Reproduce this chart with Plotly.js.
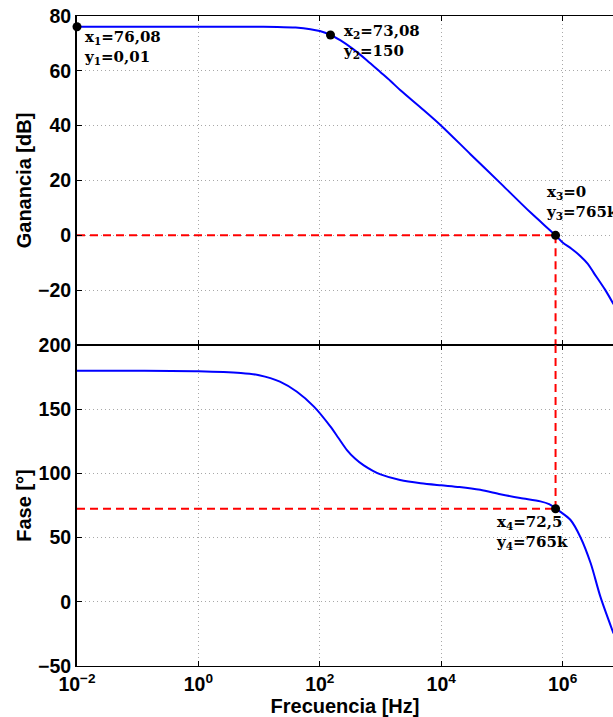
<!DOCTYPE html>
<html>
<head>
<meta charset="utf-8">
<script src="https://cdn.plot.ly/plotly-3.0.1.min.js"></script>
<style>html,body{margin:0;padding:0;background:#fff;}#chart{width:613px;height:717px;}</style>
</head>
<body>
<div id="chart"></div>
<script>
// ---- data ----
const gainFreq = [0.01, 0.1, 1, 5, 10, 20, 40, 70, 100, 150, 220, 350, 600, 1000, 1462, 2130, 5000, 1e4, 3e4, 1e5, 3e5, 765e3, 1e6, 1.4e6, 1.95e6, 2.6e6, 3.24e6, 5e6, 6.9e6];
const gainDb   = [76.08, 76.08, 76.08, 76.07, 76.05, 76.0, 75.78, 75.2, 74.5, 73.08, 71.1, 68.0, 63.8, 59.5, 56.3, 52.9, 45.9, 40.0, 29.7, 18.5, 8.2, 0, -2.6, -4.9, -7.5, -10.4, -13.6, -19.8, -25.1];

const phaseFreq = [0.01, 0.1, 1, 5, 10, 22, 42, 80, 150, 200, 280, 380, 530, 750, 1000, 2100, 4600, 1e4, 2e4, 4.4e4, 9.4e4, 2e5, 4.3e5, 6e5, 765e3, 9.1e5, 1.35e6, 1.95e6, 2.9e6, 4.2e6, 6.9e6];
const phaseDeg  = [180, 180, 179.6, 178.2, 176.5, 171.5, 163.6, 152, 136.4, 128, 118.2, 111.6, 106.2, 102.0, 99.2, 94.8, 92.3, 90.7, 89.4, 87.2, 83.8, 80.8, 78.2, 76.0, 72.8, 70.2, 63.7, 50.7, 30, 3.8, -24.7];

const gainMarkFreq = [0.01, 150, 765e3];
const gainMarkDb   = [76.08, 73.08, 0];
const gainMarkText = ["x<sub>1</sub>=76,08<br>y<sub>1</sub>=0,01", "x<sub>2</sub>=73,08<br>y<sub>2</sub>=150", "x<sub>3</sub>=0<br>y<sub>3</sub>=765k"];
const phaseMarkFreq = [765e3];
const phaseMarkDeg  = [72.5];
const phaseMarkText = ["x<sub>4</sub>=72,5<br>y<sub>4</sub>=765k"];

const xTickVals = [0.01, 1, 100, 1e4, 1e6];
const xTickText = ["10<sup>−2</sup>", "10<sup>0</sup>", "10<sup>2</sup>", "10<sup>4</sup>", "10<sup>6</sup>"];
const gainTicks  = [-20, 0, 20, 40, 60, 80];
const phaseTicks = [-50, 0, 50, 100, 150, 200];
const gainRange  = [-40, 80];
const phaseRange = [-50, 200];
const xRangeLog  = [-2, 6.83];
const crossFreq = 765e3;

// ---- styles ----
const blue = '#0000ff', red = '#ff0000';
const tickFont = {family: 'Liberation Sans, Arial, sans-serif', size: 19.5, color: '#000', weight: 'bold'};
const titleFont = {family: 'Liberation Sans, Arial, sans-serif', size: 20, color: '#000', weight: 'bold'};
const annFont = {family: 'DejaVu Serif, serif', size: 15, color: '#000', weight: 'bold'};
const dashStyle = {color: red, width: 2, dash: '8px,5px'};

const traces = [
  {x: gainFreq, y: gainDb, xaxis: 'x', yaxis: 'y', mode: 'lines', line: {color: blue, width: 2, shape: 'spline', smoothing: 0.8}, hoverinfo: 'skip'},
  {x: phaseFreq, y: phaseDeg, xaxis: 'x2', yaxis: 'y2', mode: 'lines', line: {color: blue, width: 2, shape: 'spline', smoothing: 0.8}, hoverinfo: 'skip'},
  // red guide lines
  {x: [gainFreq[0], crossFreq], y: [0, 0], xaxis: 'x', yaxis: 'y', mode: 'lines', line: dashStyle},
  {x: [crossFreq, crossFreq], y: [0, gainRange[0]], xaxis: 'x', yaxis: 'y', mode: 'lines', line: dashStyle},
  {x: [crossFreq, crossFreq], y: [phaseRange[1], phaseMarkDeg[0]], xaxis: 'x2', yaxis: 'y2', mode: 'lines', line: dashStyle},
  {x: [phaseFreq[0], crossFreq], y: [phaseMarkDeg[0], phaseMarkDeg[0]], xaxis: 'x2', yaxis: 'y2', mode: 'lines', line: dashStyle},
  // markers
  {x: gainMarkFreq, y: gainMarkDb, xaxis: 'x', yaxis: 'y', mode: 'markers', marker: {color: '#000', size: 9}, cliponaxis: false},
  {x: phaseMarkFreq, y: phaseMarkDeg, xaxis: 'x2', yaxis: 'y2', mode: 'markers', marker: {color: '#000', size: 9}, cliponaxis: false}
];

const annShift = [[5, -21], [10, -7], [-12, 33]];
const annotations = gainMarkFreq.map((f, i) => ({
  x: Math.log10(f), y: gainMarkDb[i], xref: 'x', yref: 'y', text: gainMarkText[i],
  showarrow: false, xanchor: 'left', yanchor: 'middle', align: 'left',
  xshift: annShift[i][0], yshift: annShift[i][1], font: annFont
}));
annotations.push({
  x: Math.log10(phaseMarkFreq[0]), y: phaseMarkDeg[0], xref: 'x2', yref: 'y2', text: phaseMarkText[0],
  showarrow: false, xanchor: 'left', yanchor: 'middle', align: 'left',
  xshift: -62, yshift: -24, font: annFont
});

const gridStyle = {showgrid: true, gridcolor: '#a8a8a8', griddash: '1px,3px', gridwidth: 1, minor: {showgrid: false, ticks: ''}};
const xBase = Object.assign({
  type: 'log', range: xRangeLog, tickmode: 'array', tickvals: xTickVals, ticktext: xTickText,
  showline: true, linecolor: '#000', linewidth: 1.3, mirror: 'ticks',
  ticks: 'inside', ticklen: 5, tickcolor: '#000', tickwidth: 1, zeroline: false,
  tickfont: tickFont
}, gridStyle);
const yBase = Object.assign({
  tickmode: 'array',
  showline: true, linecolor: '#000', linewidth: 2,
  ticks: 'inside', ticklen: 5, tickcolor: '#000', tickwidth: 1, zeroline: false,
  tickfont: tickFont, ticklabelstandoff: 0
}, gridStyle);

const split = (666 - 345) / 650;
const layout = {
  width: 613, height: 717,
  margin: {l: 77, r: 0, t: 16, b: 51},
  paper_bgcolor: '#fff', plot_bgcolor: '#fff',
  showlegend: false,
  xaxis: Object.assign({}, xBase, {anchor: 'y', domain: [0, 1], showticklabels: false}),
  xaxis2: Object.assign({}, xBase, {anchor: 'y2', domain: [0, 1],
    title: {text: 'Frecuencia [Hz]', font: titleFont, standoff: 4}}),
  yaxis: Object.assign({}, yBase, {anchor: 'x', domain: [split, 1], range: gainRange, tickvals: gainTicks,
    title: {text: 'Ganancia [dB]', font: titleFont, standoff: 1}}),
  yaxis2: Object.assign({}, yBase, {anchor: 'x2', domain: [0, split], range: phaseRange, tickvals: phaseTicks,
    title: {text: 'Fase [°]', font: titleFont, standoff: 1}}),
  annotations: annotations
};

Plotly.newPlot('chart', traces, layout, {staticPlot: true, displayModeBar: false});
</script>
</body>
</html>
